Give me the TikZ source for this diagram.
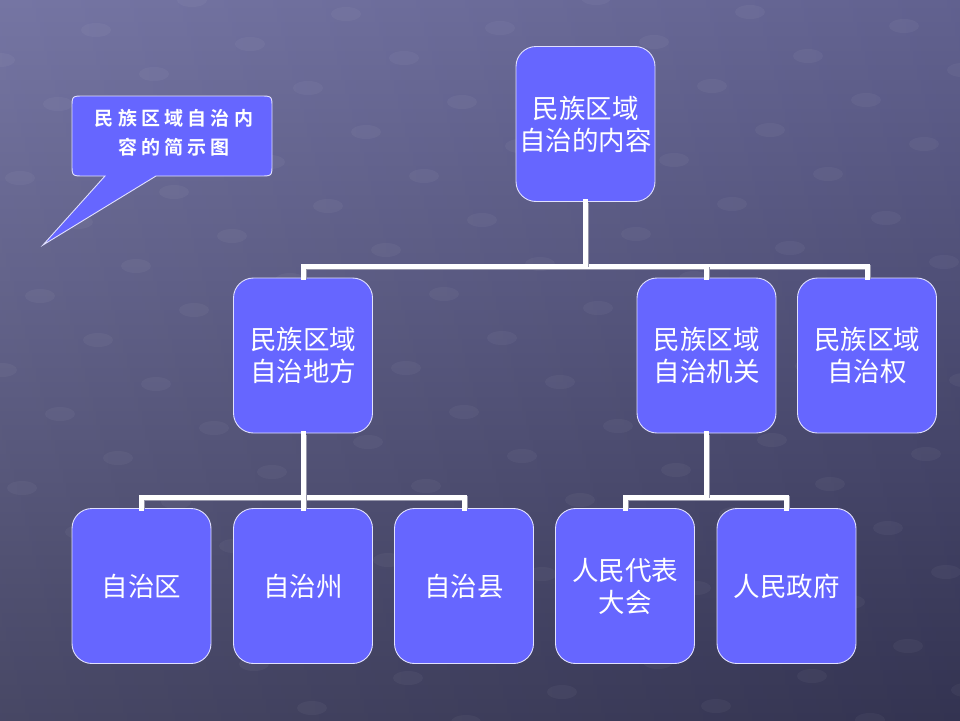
\documentclass[tikz,border=0pt]{standalone}
\usepackage{fontspec}
\newfontfamily\cjk{Noto Sans CJK SC}
\newfontfamily\cjkb[LetterSpace=22]{Noto Sans CJK SC Bold}
\definecolor{boxblue}{RGB}{102,102,255}
\definecolor{bgtop}{RGB}{106,106,156}
\definecolor{bgbot}{RGB}{56,56,88}
\definecolor{shadowgray}{RGB}{150,150,170}
\tikzset{
  orgbox/.style={draw={rgb,255:red,225;green,225;blue,255}, line width=0.9pt, fill=boxblue,
    rounded corners=20pt, minimum width=139pt, minimum height=155pt,
    text=white, align=center, inner sep=2pt,
    font=\cjk\fontsize{26.5}{32}\selectfont},
  conn/.style={draw=white, line width=5pt, line join=miter, line cap=rect,
    preaction={draw=shadowgray, line width=5pt, transform canvas={xshift=1.3pt,yshift=-1.3pt}}},
  bgdot/.style={fill=white, fill opacity=0.04},
}
\begin{document}
\begin{tikzpicture}[x=1pt,y=-1pt]
\useasboundingbox (0,0) rectangle (960,720);
% background
\shade[top color=bgtop, bottom color=bgbot] (0,0) rectangle (960,720);
\shade[left color=white, right color=black, opacity=0.08] (0,0) rectangle (960,720);
% background dot lattice
\begin{scope}
\clip (0,0) rectangle (960,720);
\foreach \i in {-4,...,12}{
  \foreach \j in {-2,...,16}{
    \pgfmathsetmacro\px{\i*96+\j*58}
    \pgfmathsetmacro\py{-\i*30+\j*44+60}
    \fill[bgdot] (\px,\py) ellipse (15pt and 7pt);
  }
}
\end{scope}
% callout
\draw[draw={rgb,255:red,225;green,225;blue,255}, line width=0.9pt, fill=boxblue]
  (84,96) -- (260,96) .. controls (272,96) .. (272,108) -- (272,164)
  .. controls (272,176) .. (260,176) -- (156,176) -- (43,245) -- (105,176)
  -- (84,176) .. controls (72,176) .. (72,164) -- (72,108)
  .. controls (72,96) .. (84,96) -- cycle;
\node[text=white, align=center, font=\cjkb\fontsize{19}{29}\selectfont] (callout) at (174,133)
  {民族区域自治内\\容的简示图};
% boxes
\node[orgbox] (top) at (585.5,124) {民族区域\\自治的内容};
\node[orgbox] (dif) at (303,355.5) {民族区域\\自治地方};
\node[orgbox] (jg)  at (706.5,355.5) {民族区域\\自治机关};
\node[orgbox] (qu2) at (867,355.5) {民族区域\\自治权};
\node[orgbox] (qu)  at (141.5,586) {自治区};
\node[orgbox] (zhou) at (303,586) {自治州};
\node[orgbox] (xian) at (464,586) {自治县};
\node[orgbox] (rd)  at (625,586) {人民代表\\大会};
\node[orgbox] (zf)  at (786.5,586) {人民政府};
% connectors
\coordinate (bus1) at (0,266);
\coordinate (bus2) at (0,497);
\draw[conn] (dif.north) -- (dif.north |- bus1) -- (qu2.north |- bus1) -- (qu2.north);
\draw[conn] (top.south) -- (top.south |- bus1);
\draw[conn] (jg.north |- bus1) -- (jg.north);
\draw[conn] (qu.north) -- (qu.north |- bus2) -- (xian.north |- bus2) -- (xian.north);
\draw[conn] (dif.south) -- (dif.south |- bus2);
\draw[conn] (zhou.north |- bus2) -- (zhou.north);
\draw[conn] (rd.north) -- (rd.north |- bus2) -- (zf.north |- bus2) -- (zf.north);
\draw[conn] (jg.south) -- (jg.south |- bus2);
\end{tikzpicture}
\end{document}
